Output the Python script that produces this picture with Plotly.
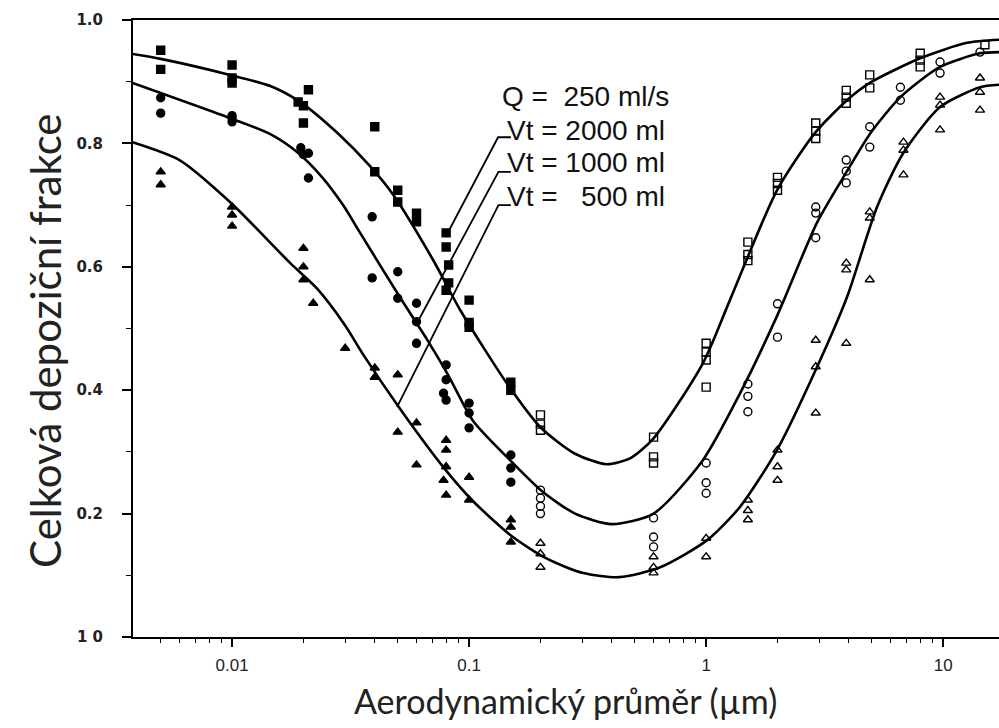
import plotly.graph_objects as go
import numpy as np

# ---------------- data ----------------
# fitted curves
curve_2000_x = [0.0038, 0.005, 0.0098, 0.0145, 0.0194, 0.028, 0.0382, 0.048, 0.0705, 0.0917, 0.145, 0.2, 0.28, 0.38, 0.48, 0.6, 0.97, 1.26, 1.99, 2.88, 3.93, 4.9, 8.0, 12.6, 17.2]
curve_2000_y = [0.945, 0.937, 0.911, 0.893, 0.867, 0.816, 0.763, 0.716, 0.611, 0.53, 0.41, 0.34, 0.297, 0.28, 0.29, 0.322, 0.444, 0.546, 0.724, 0.817, 0.87, 0.898, 0.938, 0.963, 0.968]

curve_1000_x = [0.0038, 0.0098, 0.0145, 0.0188, 0.024, 0.0294, 0.0347, 0.051, 0.0665, 0.0815, 0.104, 0.153, 0.205, 0.28, 0.4, 0.6, 0.97, 1.39, 1.99, 2.94, 3.93, 4.9, 6.6, 9.7, 14.3, 17.2]
curve_1000_y = [0.898, 0.841, 0.815, 0.786, 0.745, 0.70, 0.655, 0.551, 0.482, 0.425, 0.35, 0.282, 0.235, 0.2, 0.183, 0.2, 0.287, 0.395, 0.52, 0.672, 0.755, 0.815, 0.875, 0.924, 0.946, 0.948]

curve_500_x = [0.0038, 0.006, 0.0098, 0.0176, 0.0228, 0.03, 0.0357, 0.0511, 0.078, 0.104, 0.153, 0.213, 0.3, 0.43, 0.64, 1.01, 1.39, 1.99, 2.94, 3.93, 5.26, 6.78, 9.7, 14.3, 17.2]
curve_500_y = [0.802, 0.773, 0.705, 0.606, 0.565, 0.505, 0.458, 0.37, 0.275, 0.22, 0.162, 0.127, 0.104, 0.097, 0.113, 0.157, 0.211, 0.303, 0.438, 0.551, 0.697, 0.784, 0.859, 0.891, 0.895]

# measured points, Vt = 2000 ml (filled / open squares)
sq_fill_x = [0.005, 0.005, 0.01, 0.01, 0.01, 0.019, 0.02, 0.021, 0.02, 0.04, 0.04, 0.05, 0.05, 0.06, 0.06, 0.08, 0.08, 0.082, 0.082, 0.08, 0.1, 0.1, 0.1, 0.15, 0.15]
sq_fill_y = [0.951, 0.92, 0.927, 0.906, 0.898, 0.867, 0.861, 0.887, 0.833, 0.827, 0.754, 0.724, 0.705, 0.687, 0.673, 0.655, 0.632, 0.603, 0.574, 0.562, 0.546, 0.51, 0.502, 0.413, 0.40]
sq_open_x = [0.2, 0.2, 0.2, 0.6, 0.6, 0.6, 1, 1, 1, 1, 1.5, 1.5, 1.5, 2, 2, 2, 2.9, 2.9, 2.9, 3.9, 3.9, 3.9, 4.9, 4.9, 8, 8, 8, 15]
sq_open_y = [0.36, 0.345, 0.335, 0.324, 0.292, 0.282, 0.476, 0.462, 0.449, 0.405, 0.64, 0.62, 0.61, 0.745, 0.735, 0.724, 0.833, 0.82, 0.808, 0.886, 0.875, 0.865, 0.911, 0.89, 0.946, 0.935, 0.924, 0.96]

# Vt = 1000 ml (filled / open circles)
ci_fill_x = [0.005, 0.005, 0.01, 0.01, 0.01, 0.0195, 0.02, 0.021, 0.021, 0.039, 0.039, 0.05, 0.05, 0.06, 0.06, 0.06, 0.08, 0.08, 0.08, 0.078, 0.1, 0.1, 0.1, 0.15, 0.15, 0.15]
ci_fill_y = [0.874, 0.849, 0.841, 0.835, 0.845, 0.793, 0.782, 0.784, 0.744, 0.681, 0.582, 0.592, 0.549, 0.541, 0.511, 0.476, 0.441, 0.417, 0.384, 0.395, 0.379, 0.363, 0.339, 0.295, 0.274, 0.251]
ci_open_x = [0.2, 0.2, 0.2, 0.2, 0.6, 0.6, 0.6, 1, 1, 1, 1.5, 1.5, 1.5, 2, 2, 2.9, 2.9, 2.9, 3.9, 3.9, 3.9, 4.9, 4.9, 6.6, 6.6, 9.7, 9.7, 14.3]
ci_open_y = [0.238, 0.225, 0.212, 0.2, 0.193, 0.162, 0.146, 0.282, 0.25, 0.233, 0.41, 0.39, 0.365, 0.54, 0.486, 0.697, 0.687, 0.647, 0.773, 0.755, 0.736, 0.827, 0.794, 0.891, 0.87, 0.932, 0.914, 0.948]

# Vt = 500 ml (filled / open triangles)
tr_fill_x = [0.005, 0.005, 0.01, 0.01, 0.01, 0.02, 0.02, 0.02, 0.022, 0.03, 0.04, 0.04, 0.05, 0.05, 0.06, 0.06, 0.08, 0.08, 0.08, 0.078, 0.08, 0.1, 0.1, 0.15, 0.15, 0.15]
tr_fill_y = [0.754, 0.733, 0.697, 0.684, 0.666, 0.63, 0.6, 0.579, 0.541, 0.468, 0.436, 0.421, 0.425, 0.332, 0.347, 0.279, 0.319, 0.303, 0.276, 0.254, 0.23, 0.259, 0.222, 0.19, 0.178, 0.154]
tr_open_x = [0.2, 0.2, 0.2, 0.6, 0.6, 0.6, 1, 1, 1.5, 1.5, 1.5, 2, 2, 2, 2.9, 2.9, 2.9, 3.9, 3.9, 3.9, 4.9, 4.9, 4.9, 6.8, 6.8, 6.8, 9.7, 9.7, 9.7, 14.3, 14.3, 14.3]
tr_open_y = [0.152, 0.135, 0.113, 0.13, 0.113, 0.104, 0.16, 0.13, 0.222, 0.205, 0.19, 0.303, 0.276, 0.254, 0.481, 0.438, 0.363, 0.606, 0.595, 0.476, 0.689, 0.679, 0.579, 0.802, 0.789, 0.749, 0.875, 0.862, 0.822, 0.906, 0.883, 0.854]

# leader lines from labels to curves
lead_2000_x = [0.15, 0.1325, 0.0815]
lead_2000_y = [0.81, 0.81, 0.656]
lead_1000_x = [0.15, 0.133, 0.0603]
lead_1000_y = [0.754, 0.754, 0.509]
lead_500_x = [0.15, 0.133, 0.0497]
lead_500_y = [0.70, 0.70, 0.373]

label_lines = ["Q =  250 ml/s", "Vt = 2000 ml", "Vt = 1000 ml", "Vt =   500 ml"]

y_tickvals = [0, 0.2, 0.4, 0.6, 0.8, 1.0]
y_ticktext = ["1 0", "0.2", "0.4", "0.6", "0.8", "1.0"]
x_tickvals = [0.01, 0.1, 1, 10]
x_ticktext = ["0.01", "0.1", "1", "10"]

x_title = "Aerodynamický průměr (µm)"
y_title = "Celková depoziční frakce"

# ---------------- figure ----------------
W, H = 999, 728
L, R, T, B = 133, 0, 20, 91
pw, ph = W - L - R, H - T - B

fig = go.Figure()

for cx, cy in [(curve_2000_x, curve_2000_y), (curve_1000_x, curve_1000_y), (curve_500_x, curve_500_y)]:
    fig.add_trace(go.Scatter(x=cx, y=cy, mode="lines",
                             line=dict(color="black", width=2.6, shape="spline", smoothing=0.7),
                             hoverinfo="skip", showlegend=False))

for lx, ly in [(lead_2000_x, lead_2000_y), (lead_1000_x, lead_1000_y), (lead_500_x, lead_500_y)]:
    fig.add_trace(go.Scatter(x=lx, y=ly, mode="lines",
                             line=dict(color="black", width=1.8),
                             hoverinfo="skip", showlegend=False))

def markers(x, y, symbol, size):
    fig.add_trace(go.Scatter(x=x, y=y, mode="markers",
                             marker=dict(symbol=symbol, size=size, color="black",
                                         line=dict(color="black", width=1.4)),
                             showlegend=False))

markers(sq_fill_x, sq_fill_y, "square", 8)
markers(sq_open_x, sq_open_y, "square-open", 8)
markers(ci_fill_x, ci_fill_y, "circle", 8)
markers(ci_open_x, ci_open_y, "circle-open", 8)
markers(tr_fill_x, tr_fill_y, "triangle-up", 8)
markers(tr_open_x, tr_open_y, "triangle-up-open", 8)

# label block
row_px = [97, 130, 163, 196]
row_x = [500, 505, 505, 505]
for txt, px, py in zip(label_lines, row_x, row_px):
    fig.add_annotation(x=(px - L) / pw, y=(H - B - py) / ph, xref="paper", yref="paper",
                       text=txt, showarrow=False, xanchor="left", yanchor="middle",
                       font=dict(family="Liberation Sans, Arial", size=28, color="#111"))

# axis titles
fig.add_annotation(x=(565 - L) / pw, y=-(700 - (H - B)) / ph, xref="paper", yref="paper",
                   text=x_title, showarrow=False, xanchor="center", yanchor="middle",
                   font=dict(family="Lato", size=34, color="#222"))
fig.add_annotation(x=-(L - 45) / pw, y=(H - B - 341) / ph, xref="paper", yref="paper",
                   text=y_title, showarrow=False, textangle=-90, xanchor="center", yanchor="middle",
                   font=dict(family="Lato", size=42, color="#222"))

fig.update_xaxes(type="log", range=[np.log10(0.00382), np.log10(17.2)],
                 tickvals=x_tickvals, ticktext=x_ticktext,
                 ticks="outside", ticklen=8, tickwidth=1.5, tickcolor="black",
                 minor=dict(ticks="outside", ticklen=4, tickwidth=1, tickcolor="black",
                            tickvals=[0.005, 0.006, 0.007, 0.008, 0.009, 0.02, 0.03, 0.04, 0.05, 0.06, 0.07, 0.08, 0.09,
                                      0.2, 0.3, 0.4, 0.5, 0.6, 0.7, 0.8, 0.9, 2, 3, 4, 5, 6, 7, 8, 9]),
                 showline=True, linecolor="black", linewidth=2, mirror=True,
                 showgrid=False, zeroline=False,
                 tickfont=dict(family="Liberation Sans, Arial", size=17, color="#222"),
                 ticklabelstandoff=4)
fig.update_yaxes(range=[0, 1.0], tickvals=y_tickvals, ticktext=y_ticktext,
                 ticks="outside", ticklen=9, tickwidth=1.5, tickcolor="black",
                 minor=dict(ticks="outside", ticklen=5, tickwidth=1, tickcolor="black", dtick=0.1),
                 showline=True, linecolor="black", linewidth=2, mirror=False,
                 showgrid=False, zeroline=False,
                 tickfont=dict(family="DejaVu Sans", size=15, color="#222", weight="bold"),
                 ticklabelstandoff=16)

fig.update_layout(width=W, height=H, margin=dict(l=L, r=R, t=T, b=B, pad=0),
                  paper_bgcolor="white", plot_bgcolor="white", showlegend=False)

fig.write_html("out.html")
